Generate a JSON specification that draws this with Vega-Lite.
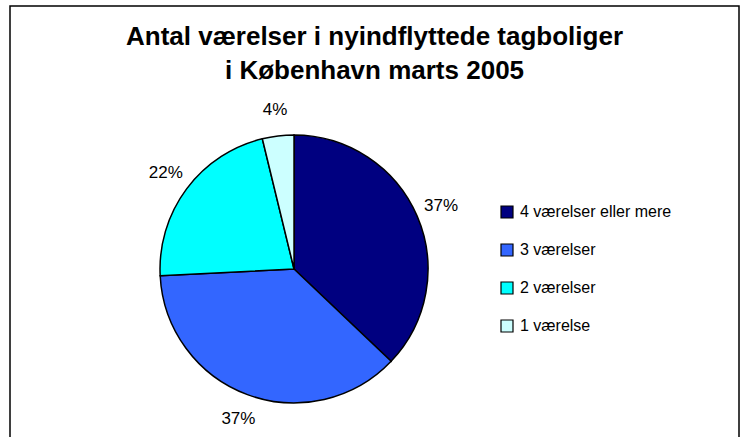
{
  "$schema": "https://vega.github.io/schema/vega-lite/v6.json",
  "width": 729,
  "height": 440,
  "autosize": "none",
  "padding": {"left": 10, "top": 6, "right": 2, "bottom": 0},
  "background": "white",
  "config": {
    "view": {"stroke": "black", "strokeWidth": 1.5},
    "font": "Liberation Sans"
  },
  "title": {
    "text": ["Antal værelser i nyindflyttede tagboliger", "i København marts 2005"],
    "font": "Liberation Sans",
    "fontSize": 26,
    "fontWeight": "bold",
    "color": "black",
    "anchor": "middle",
    "baseline": "top",
    "lineHeight": 34,
    "offset": -20,
    "dy": 58
  },
  "data": {
    "values": [
      {"category": "4 værelser eller mere", "share": 0.371, "rank": 1},
      {"category": "3 værelser", "share": 0.371, "rank": 2},
      {"category": "2 værelser", "share": 0.22, "rank": 3},
      {"category": "1 værelse", "share": 0.038, "rank": 4}
    ]
  },
  "encoding": {
    "theta": {"field": "share", "type": "quantitative", "stack": true},
    "order": {"field": "rank", "type": "quantitative"},
    "x": {"datum": 0.3896, "type": "quantitative", "scale": {"domain": [0, 1]}, "axis": null},
    "y": {"datum": 0.4023, "type": "quantitative", "scale": {"domain": [0, 1]}, "axis": null}
  },
  "layer": [
    {
      "mark": {"type": "arc", "outerRadius": 134, "stroke": "black", "strokeWidth": 1.5},
      "encoding": {
        "color": {
          "field": "category",
          "type": "nominal",
          "scale": {
            "domain": ["4 værelser eller mere", "3 værelser", "2 værelser", "1 værelse"],
            "range": ["#000080", "#3366FF", "#00FFFF", "#CCFFFF"]
          },
          "legend": {
            "title": null,
            "orient": "none",
            "legendX": 489,
            "legendY": 198,
            "symbolType": "square",
            "symbolSize": 144,
            "symbolStrokeColor": "black",
            "symbolStrokeWidth": 1.2,
            "labelFont": "Liberation Sans",
            "labelFontSize": 16,
            "labelColor": "black",
            "labelOffset": 5,
            "rowPadding": 20,
            "labelLimit": 300
          }
        }
      }
    },
    {
      "mark": {"type": "text", "radius": 160, "font": "Liberation Sans", "fontSize": 17, "color": "black"},
      "encoding": {
        "text": {"field": "share", "type": "quantitative", "format": ".0%"}
      }
    }
  ]
}
